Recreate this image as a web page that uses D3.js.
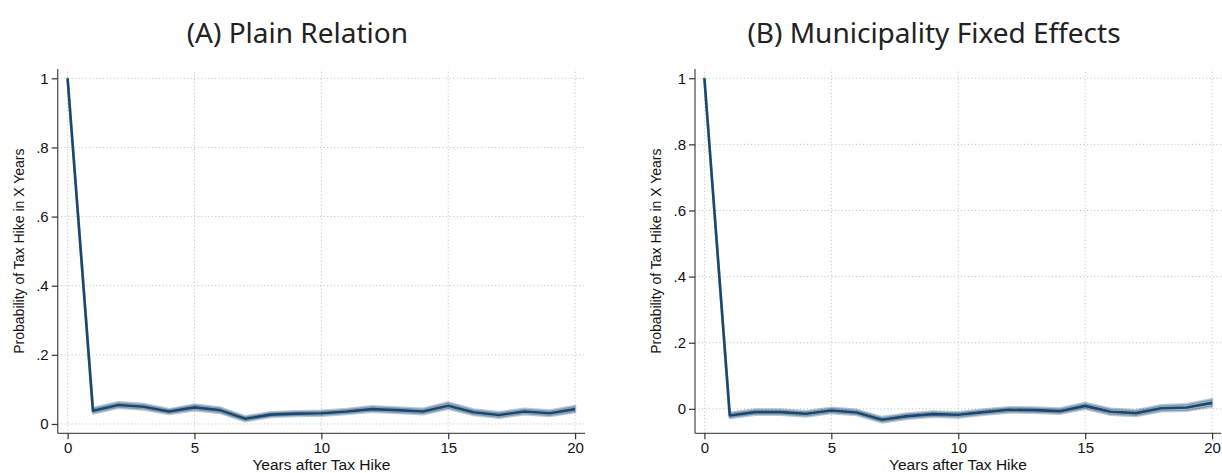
<!DOCTYPE html>
<html>
<head>
<meta charset="utf-8">
<script src="https://cdn.jsdelivr.net/npm/d3@7"></script>
<style>
  body { margin: 0; background: #fff; }
  svg { display: block; }
</style>
</head>
<body>
<div id="chart"></div>
<script>
var years = d3.range(0, 21);

// (A) plain relation
var plainEst = [1, .038, .055, .050, .036, .048, .040, .015, .027, .030, .031, .036, .043, .040, .036, .053, .034, .026, .036, .031, .043];
var plainLo  = [1, .030, .047, .042, .029, .040, .032, .008, .020, .023, .024, .029, .035, .032, .028, .044, .026, .018, .028, .023, .034];
var plainHi  = [1, .046, .063, .058, .043, .056, .048, .022, .034, .037, .038, .043, .051, .048, .044, .062, .042, .034, .044, .039, .052];

// (B) municipality fixed effects
var feEst = [1, -.020, -.010, -.010, -.015, -.005, -.011, -.033, -.022, -.016, -.018, -.010, -.003, -.004, -.007, .009, -.009, -.013, .002, .004, .018];
var feLo  = [1, -.028, -.018, -.018, -.023, -.013, -.019, -.041, -.030, -.024, -.026, -.018, -.011, -.012, -.015, .000, -.018, -.022, -.007, -.006, .007];
var feHi  = [1, -.012, -.002, -.002, -.007, .003, -.003, -.025, -.014, -.008, -.010, -.002, .005, .004, .001, .018, .000, -.004, .011, .014, .029];

var xTicks = [0, 5, 10, 15, 20];
var yTicks = [0, .2, .4, .6, .8, 1];
var yTickLabels = ["0", ".2", ".4", ".6", ".8", "1"];

var navy = "#1a476f";

var svg = d3.select("#chart").append("svg")
  .attr("width", 1222)
  .attr("height", 473);

function drawPanel(opt) {
  var g = svg.append("g");

  var x = d3.scaleLinear().domain(opt.xDomain).range([opt.left, opt.right]);
  var y = d3.scaleLinear().domain(opt.yDomain).range([433.3, 69]);

  var rows = years.map(function(d, i) {
    return {year: d, est: opt.est[i], lo: opt.lo[i], hi: opt.hi[i]};
  });

  // title
  g.append("text")
    .attr("x", (opt.left + opt.right) / 2 - 24)
    .attr("y", 43)
    .attr("text-anchor", "middle")
    .style("font-family", "'Noto Sans', sans-serif")
    .style("font-size", "28px")
    .style("fill", "#222")
    .text(opt.title);

  // grid
  g.append("g").selectAll("line")
    .data(xTicks).enter().append("line")
    .attr("x1", d => x(d)).attr("x2", d => x(d))
    .attr("y1", y.range()[0]).attr("y2", y.range()[1])
    .attr("stroke", "#bdbdbd").attr("stroke-width", 1)
    .attr("stroke-dasharray", "1,2.5");

  g.append("g").selectAll("line")
    .data(yTicks).enter().append("line")
    .attr("x1", opt.left).attr("x2", opt.right)
    .attr("y1", d => y(d)).attr("y2", d => y(d))
    .attr("stroke", "#bdbdbd").attr("stroke-width", 1)
    .attr("stroke-dasharray", "1,2.5");

  // confidence band
  var area = d3.area()
    .x(d => x(d.year))
    .y0(d => y(d.lo))
    .y1(d => y(d.hi));

  g.append("path")
    .datum(rows)
    .attr("d", area)
    .attr("fill", navy)
    .attr("fill-opacity", 0.36)
    .attr("stroke", navy)
    .attr("stroke-opacity", 0.3)
    .attr("stroke-width", 2.5)
    .attr("stroke-linejoin", "round");

  var line = d3.line()
    .x(d => x(d.year))
    .y(d => y(d.est));

  g.append("path")
    .datum(rows)
    .attr("d", line)
    .attr("fill", "none")
    .attr("stroke", navy)
    .attr("stroke-width", 2.6)
    .attr("stroke-linejoin", "round");

  // axes
  var xAxis = g.append("g")
    .attr("transform", "translate(0," + y.range()[0] + ")")
    .call(d3.axisBottom(x).tickValues(xTicks).tickSize(6).tickPadding(3).tickFormat(d3.format("d")));

  var yAxis = g.append("g")
    .attr("transform", "translate(" + opt.left + ",0)")
    .call(d3.axisLeft(y).tickValues(yTicks).tickSize(6).tickPadding(3)
      .tickFormat((d, i) => yTickLabels[i]));

  [xAxis, yAxis].forEach(function(a) {
    a.select(".domain").attr("stroke", "#555").attr("stroke-width", 1.3);
    a.selectAll(".tick line").attr("stroke", "#333").attr("stroke-width", 1.2);
    a.selectAll(".tick text")
      .style("font-family", "'Liberation Sans', Arial, sans-serif")
      .style("font-size", "15px")
      .style("fill", "#111");
  });
  xAxis.select(".domain").attr("d", "M" + opt.left + ",0H" + opt.right);
  yAxis.select(".domain").attr("d", "M0," + y.range()[0] + "V" + y.range()[1]);

  // axis titles
  g.append("text")
    .attr("x", (opt.left + opt.right) / 2)
    .attr("y", 470)
    .attr("text-anchor", "middle")
    .style("font-family", "'Liberation Sans', Arial, sans-serif")
    .style("font-size", "15.5px")
    .style("fill", "#111")
    .text("Years after Tax Hike");

  g.append("text")
    .attr("transform", "translate(" + (opt.left - 34) + "," + ((y.range()[0] + y.range()[1]) / 2) + ") rotate(-90)")
    .attr("text-anchor", "middle")
    .style("font-family", "'Liberation Sans', Arial, sans-serif")
    .style("font-size", "14px")
    .style("fill", "#111")
    .text("Probability of Tax Hike in X Years");
}

drawPanel({
  title: "(A) Plain Relation",
  left: 57.7, right: 585,
  xDomain: [-0.39, 20.39],
  yDomain: [-0.027, 1.027],
  est: plainEst, lo: plainLo, hi: plainHi
});

drawPanel({
  title: "(B) Municipality Fixed Effects",
  left: 695, right: 1221,
  xDomain: [-0.37, 20.35],
  yDomain: [-0.074, 1.028],
  est: feEst, lo: feLo, hi: feHi
});
</script>
</body>
</html>
